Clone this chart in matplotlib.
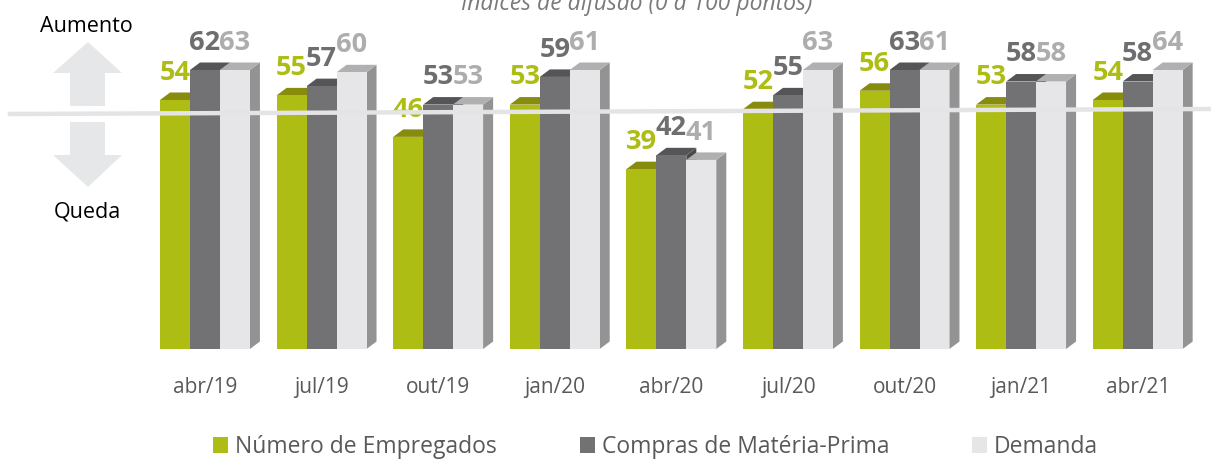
import matplotlib
matplotlib.use("Agg")
import matplotlib.pyplot as plt
from matplotlib.patches import Polygon, Patch
from matplotlib.lines import Line2D

plt.rcParams['font.family'] = ['Open Sans', 'DejaVu Sans']

# ---- data ----
categories = ["abr/19", "jul/19", "out/19", "jan/20", "abr/20", "jul/20", "out/20", "jan/21", "abr/21"]
empregados = [54, 55, 46, 53, 39, 52, 56, 53, 54]
compras = [62, 57, 53, 59, 42, 55, 63, 58, 58]
demanda = [63, 60, 53, 61, 41, 63, 61, 58, 64]
series_names = ["Número de Empregados", "Compras de Matéria-Prima", "Demanda"]
title = "Índices de difusão (0 a 100 pontos)"

front_colors = ["#AEBD14", "#727274", "#E6E6E8"]
top_colors = ["#878C0C", "#555557", "#B0B0B0"]
side_colors = ["#7F8A10", "#4A4A4C", "#939393"]
label_colors = ["#AEBD14", "#6E6E70", "#ADADAD"]

W, H = 1211, 461
fig = plt.figure(figsize=(W / 100, H / 100), dpi=100)

# axes placement (pixels)
ax_left, ax_right = 146.7, 1196.0
ax_bottom, ax_top = 349, 70
ax = fig.add_axes([ax_left / W, 1 - ax_bottom / H, (ax_right - ax_left) / W, (ax_bottom - ax_top) / H])
ymax = 60.5
ax.set_xlim(-0.5, len(categories) - 0.5)
ax.set_ylim(0, ymax)
for s in ax.spines.values():
    s.set_visible(False)
ax.set_yticks([])

bw = 0.257
offsets = [-bw, 0.0, bw]
all_series = [empregados, compras, demanda]

# pixel -> data conversion for 3D faces
fig.canvas.draw()
p0 = ax.transData.transform((0, 0))
p1 = ax.transData.transform((1, 1))
px_x = p1[0] - p0[0]
px_y = p1[1] - p0[1]
dx = 10.0 / px_x
dy = 7.5 / px_y

for i, cat in enumerate(categories):
    for k, series in enumerate(all_series):
        v = series[i]
        xc = i + offsets[k]
        left = xc - bw / 2
        right = xc + bw / 2
        top = min(v, ymax)
        z = 3 + k
        # side face
        ax.add_patch(Polygon([(right, 0), (right + dx, dy), (right + dx, top + dy), (right, top)],
                             closed=True, facecolor=side_colors[k], edgecolor='none',
                             zorder=z, clip_on=False))
        # top face
        ax.add_patch(Polygon([(left, top), (left + dx, top + dy), (right + dx, top + dy), (right, top)],
                             closed=True, facecolor=top_colors[k], edgecolor='none',
                             zorder=z, clip_on=False))
        # front face
        ax.bar(xc, v, width=bw, color=front_colors[k], zorder=z, linewidth=0)
        ax.annotate(str(v), xy=(xc, top), xytext=(0, 14.5), textcoords='offset points',
                    ha='center', va='baseline', fontsize=19.5, fontweight='bold',
                    color=label_colors[k], zorder=10, annotation_clip=False)

ax.set_xticks(range(len(categories)))
ax.set_xticklabels(categories, fontsize=15, color="#595959")
ax.tick_params(axis='x', length=0, pad=20)

# reference line (decorative, slightly tilted as in the original)
fig.add_artist(Line2D([10 / W, 1211 / W], [1 - 114 / H, 1 - 109 / H], transform=fig.transFigure,
                      color="#E4E4E6", linewidth=3.2, zorder=20))

# arrows
arrow_col = "#E6E7E8"
up = [(88, 42), (122, 73), (105, 73), (105, 106), (70, 106), (70, 73), (53, 73)]
down = [(70, 122), (105, 122), (105, 155), (122, 155), (88, 187), (53, 155), (70, 155)]
for pts in (up, down):
    fig.add_artist(Polygon([(x / W, 1 - y / H) for x, y in pts], closed=True,
                           transform=fig.transFigure, facecolor=arrow_col, edgecolor='none'))
fig.text(86 / W, 1 - 26 / H, "Aumento", ha='center', va='center', fontsize=15.5, color='black')
fig.text(87 / W, 1 - 212 / H, "Queda", ha='center', va='center', fontsize=15.5, color='black')

# title (partly cut at top, as in the original)
fig.text(637 / W, 1 - 10 / H, title, ha='center', va='baseline', fontsize=16.5,
         style='italic', color="#7A7A7A")

# legend
handles = [Patch(facecolor=c, edgecolor='none') for c in front_colors]
fig.legend(handles, series_names, loc='center', bbox_to_anchor=(655.5 / W, 1 - 447 / H),
           ncol=3, frameon=False, fontsize=16.5, labelcolor="#595959",
           handlelength=0.66, handleheight=0.66, handletextpad=0.3, columnspacing=3.6)

fig.savefig("out.png", dpi=100)
